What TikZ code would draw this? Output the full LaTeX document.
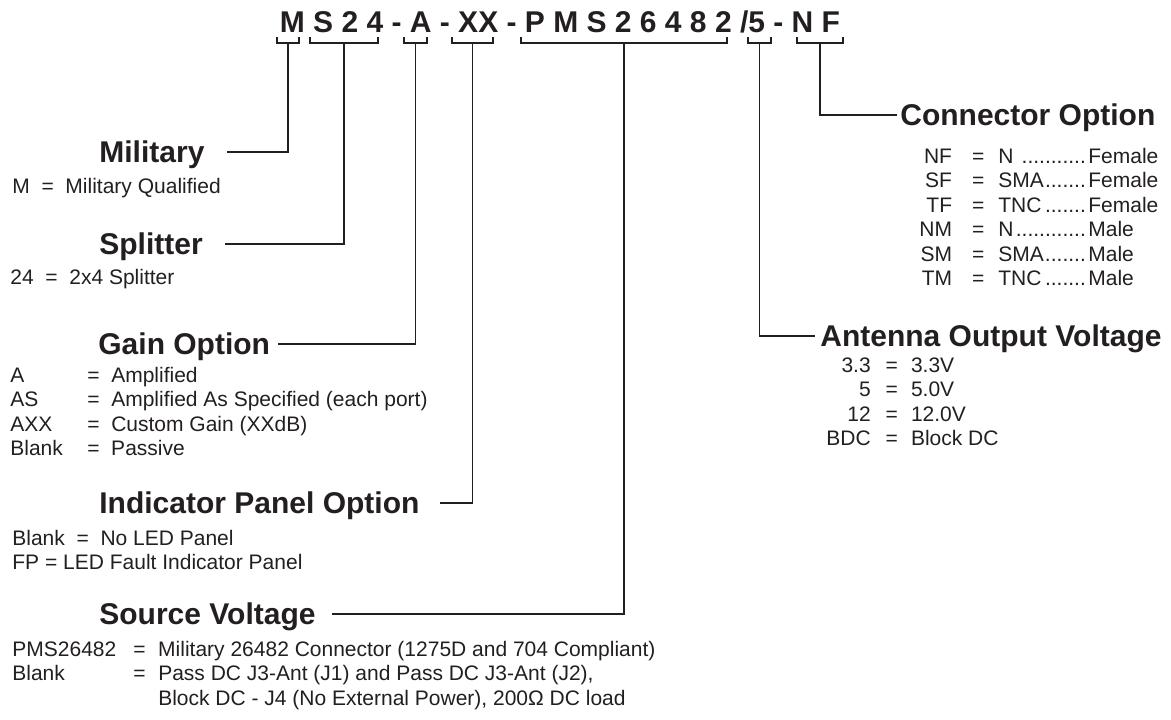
\documentclass[tikz,border=0pt]{standalone}
\usepackage{fontspec}
\setmainfont{Liberation Sans}
\usepackage{xcolor,tikz}
\definecolor{ink}{RGB}{35,31,32}
\newcommand{\lead}{\leaders\hbox{.}\hfill}
\newcommand{\cval}[2]{\makebox[45pt][l]{#1\lead}#2}

\begin{document}
\begin{tikzpicture}[x=0.5pt,y=-0.5pt,
  every node/.style={text=ink,inner sep=0},
  partno/.style={font=\fontsize{15}{18}\selectfont\bfseries,anchor=base},
  head/.style={font=\fontsize{15}{18}\selectfont\bfseries,text height=10.7pt,text depth=0pt,anchor=west},
  list/.style={font=\fontsize{10.5}{12.25}\selectfont,anchor=base west},
  link/.style={draw=ink,line width=0.7pt}]
\useasboundingbox (0,0) rectangle (1171,719);

% ---- part number and brackets
\node[partno] (pn) at (560,32) {M S 2 4 - A - XX - P M S 2 6 4 8 2 /5 - N F};
\foreach \l/\r/\n in {277/299/mil,310/378/spl,404/427/gain,452/493/ind,521/727/src,748/771/ant,797/843/con}{
  \draw[link] (\l,37) |- (\r,43) -- (\r,37);
  \coordinate (b-\n) at ({(\l+\r)/2},43);
}

% ---- left column
\node[head] (mil) at (99,152) {Military};
\node[list] (mil-l) at (12,193) {M~~=~~Military Qualified};

\node[head] (spl) at (99,244) {Splitter};
\node[list] (spl-l) at (10,284) {24~~=~~2x4 Splitter};

\node[head] (gain) at (98,344) {Gain Option};
\node[list] (gain-l) at (10,382) {\begin{tabular}[t]{@{}p{38.5pt}@{}c@{\hspace{5.8pt}}l@{}}
  A & = & Amplified\\
  AS & = & Amplified As Specified (each port)\\
  AXX & = & Custom Gain (XXdB)\\
  Blank & = & Passive
\end{tabular}};

\node[head] (ind) at (99,503) {Indicator Panel Option};
\node[list] (ind-l) at (12,545) {\begin{tabular}[t]{@{}l@{}}
  Blank~~=~~No LED Panel\\
  FP = LED Fault Indicator Panel
\end{tabular}};

\node[head] (src) at (99,614) {Source Voltage};
\node[list] (src-l) at (12,656) {\begin{tabular}[t]{@{}p{60.5pt}@{}c@{\hspace{6.3pt}}l@{}}
  PMS26482 & = & Military 26482 Connector (1275D and 704 Compliant)\\
  Blank & = & Pass DC J3-Ant (J1) and Pass DC J3-Ant (J2),\\
  & & Block DC - J4 (No External Power), 200Ω DC load
\end{tabular}};

% ---- right column
\node[head] (con) at (900,115) {Connector Option};
\node[list] (con-l) at (919,163) {\begin{tabular}[t]{@{}r@{\hspace{10pt}}c@{\hspace{7pt}}l@{}}
  NF & = & \cval{N }{Female}\\
  SF & = & \cval{SMA}{Female}\\
  TF & = & \cval{TNC}{Female}\\
  NM & = & \cval{N}{Male}\\
  SM & = & \cval{SMA}{Male}\\
  TM & = & \cval{TNC}{Male}
\end{tabular}};

\node[head] (ant) at (820,336) {Antenna Output Voltage};
\node[list] (ant-l) at (826,372) {\begin{tabular}[t]{@{}r@{\hspace{7.5pt}}c@{\hspace{6.5pt}}l@{}}
  3.3 & = & 3.3V\\
  5 & = & 5.0V\\
  12 & = & 12.0V\\
  BDC & = & Block DC
\end{tabular}};

% ---- leaders from brackets to headings
\draw[link] (b-mil) |- ([xshift=11pt]mil.east);
\draw[link] (b-spl) |- ([xshift=11pt]spl.east);
\draw[link] (b-gain) |- ([xshift=4pt]gain.east);
\draw[link] (b-ind) |- ([xshift=10pt]ind.east);
\draw[link] (b-src) |- ([xshift=8pt]src.east);
\draw[link] (b-ant) |- ([xshift=-2.5pt]ant.west);
\draw[link] (b-con) |- ([xshift=-1.5pt]con.west);
\end{tikzpicture}
\end{document}
